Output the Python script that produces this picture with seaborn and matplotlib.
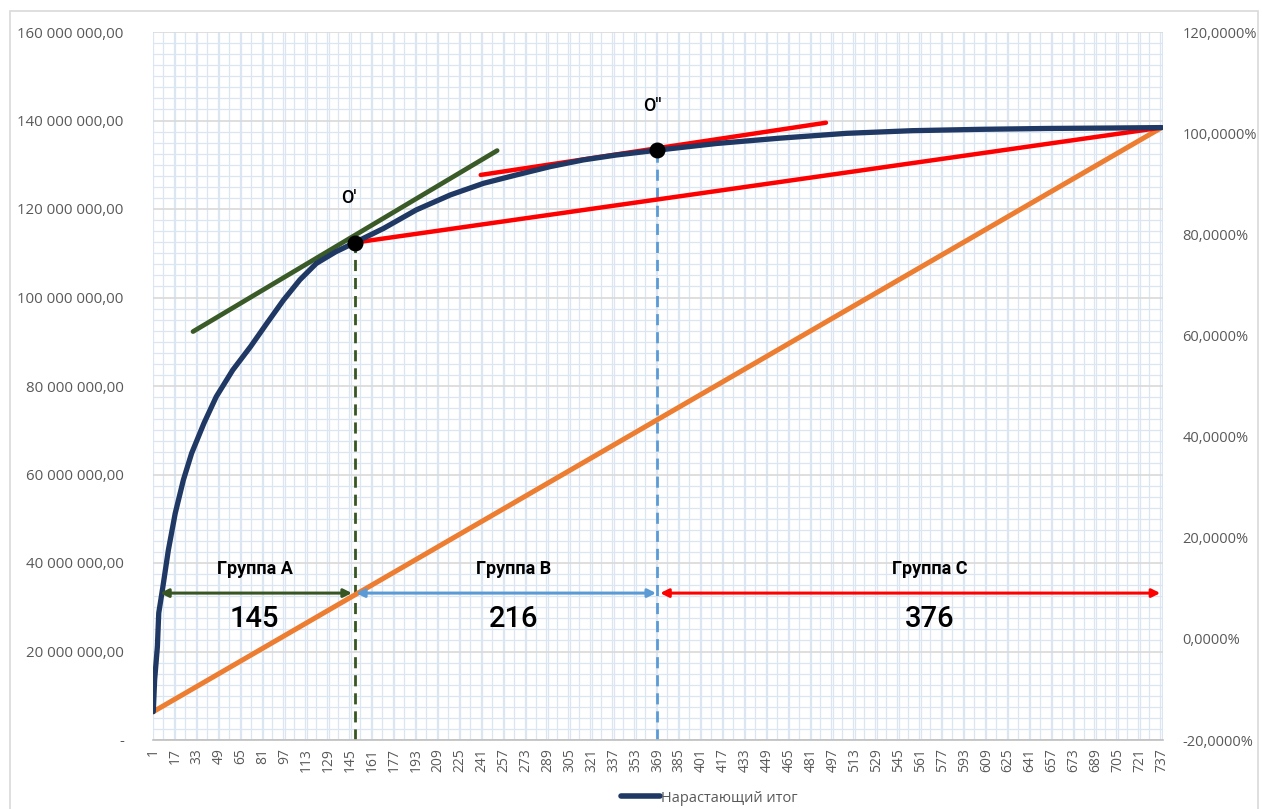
import matplotlib
matplotlib.use("Agg")
import matplotlib.pyplot as plt
from matplotlib.patches import Rectangle
from matplotlib.lines import Line2D
from matplotlib.ticker import FixedLocator, MultipleLocator, FuncFormatter
import numpy as np
import pandas as pd
import seaborn as sns

# Cumulative revenue (ABC analysis), item rank -> running total, mln
rank = [1, 2, 4, 5, 8, 12, 17, 23, 29, 38, 47, 59, 72, 84, 96, 108, 120, 134,
        148, 169, 193, 218, 242, 266, 291, 315, 339, 369, 412, 458, 507, 555,
        604, 653, 701, 737]
running_total_mln = [6.4, 13.6, 21.1, 28.7, 34.6, 42.9, 51.2, 58.8, 64.8, 71.6,
                     77.6, 83.6, 88.9, 94.2, 99.4, 104.0, 107.7, 110.3, 112.4,
                     115.6, 119.8, 123.2, 125.8, 127.7, 129.6, 131.1, 132.2,
                     133.3, 134.8, 136.0, 137.1, 137.7, 138.0, 138.2, 138.3, 138.4]

# Auxiliary straight lines: (rank, mln) end points
diagonal = ([1, 737], [6.4, 138.4])
tangent_a = ([30, 252], [92.3, 133.2])
chord_a = ([148, 737], [112.4, 138.4])
tangent_b = ([240, 492], [127.7, 139.5])

# Break points O' and O''
break_x = [148, 369]
break_y = [112.4, 133.3]
break_names = ["O'", "O''"]

# Group spans
groups = ["Группа A", "Группа B", "Группа C"]
group_counts = ["145", "216", "376"]
group_spans = [(6, 146), (149, 368), (371, 736)]
group_label_x = [75, 264, 568]
group_colors = ["#375623", "#5b9bd5", "#ff0000"]
arrow_level = 33.2

x_ticks = list(range(1, 738, 16))
left_ticks = [0, 20, 40, 60, 80, 100, 120, 140, 160]
right_ticks = [-0.2, 0.0, 0.2, 0.4, 0.6, 0.8, 1.0, 1.2]

M = 1e6
sns.set_theme(style="white")
plt.rcParams["font.family"] = ["Open Sans", "DejaVu Sans"]

W, H = 1262, 809
fig = plt.figure(figsize=(W / 100, H / 100), dpi=100)
ax = fig.add_axes([153 / W, 1 - 740 / H, (1163 - 153) / W, (740 - 32) / H])

# Graph-paper grid
ax.set_xlim(0.8, 738)
ax.set_ylim(0, 160 * M)
ax.xaxis.set_minor_locator(MultipleLocator(8))
ax.yaxis.set_minor_locator(MultipleLocator(2.5 * M))
ax.grid(which="minor", color="#dce6f2", lw=0.9)
ax.grid(which="major", axis="x", color="#dce6f2", lw=0.9)
ax.grid(which="major", axis="y", color="#d9d9d9", lw=1.2)
ax.set_axisbelow(True)

df = pd.DataFrame({"rank": rank, "total": np.array(running_total_mln) * M})

# Straight helper lines
sns.lineplot(x=diagonal[0], y=np.array(diagonal[1]) * M, ax=ax,
             color="#ed7d31", lw=3.6, zorder=3)
sns.lineplot(x=tangent_a[0], y=np.array(tangent_a[1]) * M, ax=ax,
             color="#3a5a27", lw=3.4, zorder=3)
sns.lineplot(x=chord_a[0], y=np.array(chord_a[1]) * M, ax=ax,
             color="#ff0000", lw=3.2, zorder=3)
sns.lineplot(x=tangent_b[0], y=np.array(tangent_b[1]) * M, ax=ax,
             color="#ff0000", lw=3.2, zorder=3)

# Running total curve
sns.lineplot(data=df, x="rank", y="total", ax=ax, color="#1f3864", lw=3.8,
             zorder=4, solid_joinstyle="round", solid_capstyle="round")

# Vertical dashed group borders
ax.plot([break_x[0]] * 2, [0, break_y[0] * M], ls=(0, (4, 2.5)),
        color="#375623", lw=2, zorder=2)
ax.plot([break_x[1]] * 2, [0, break_y[1] * M], ls=(0, (4, 2.5)),
        color="#5b9bd5", lw=2, zorder=2)

# Break points with labels
ax.scatter(break_x, np.array(break_y) * M, s=110, color="black", zorder=6)
for bx, by, name in zip(break_x, break_y, break_names):
    ax.text(bx - 4, by * M + 10 * M, name, ha="center", va="center",
            fontsize=13, family="Roboto", fontweight="medium", color="black")

# Group arrows and captions
for (x0, x1), lx, col, title, count in zip(group_spans, group_label_x,
                                           group_colors, groups, group_counts):
    ax.annotate("", xy=(x1, arrow_level * M), xytext=(x0, arrow_level * M),
                arrowprops=dict(arrowstyle="<|-|>", color=col, lw=2.2,
                                mutation_scale=12, shrinkA=0, shrinkB=0),
                zorder=5)
    ax.text(lx, arrow_level * M + 5.4 * M, title, ha="center", va="center",
            fontsize=13, family="Roboto", fontweight="bold", color="black")
    ax.text(lx, arrow_level * M - 5.9 * M, count, ha="center", va="center",
            fontsize=21, family="Roboto", fontweight="medium", color="black")

# Axes, ticks and labels
def money(v, pos):
    if abs(v) < 1:
        return "-"
    return f"{v:,.2f}".replace(",", " ").replace(".", ",")

ax.xaxis.set_major_locator(FixedLocator(x_ticks))
ax.set_xticklabels([str(t) for t in x_ticks], rotation=90)
ax.yaxis.set_major_locator(FixedLocator([t * M for t in left_ticks]))
ax.yaxis.set_major_formatter(FuncFormatter(money))
ax.tick_params(axis="x", which="both", length=0, pad=6, labelsize=10,
               labelcolor="#595959")
ax.tick_params(axis="y", which="both", length=0, pad=21, labelsize=10.8,
               labelcolor="#595959")
ax.set_xlabel("")
ax.set_ylabel("")
for side in ["left", "right", "top"]:
    ax.spines[side].set_visible(False)
ax.spines["bottom"].set_color("#bfbfbf")
ax.spines["bottom"].set_linewidth(1.2)

ax2 = ax.twinx()
ax2.set_ylim(-0.2, 1.2)
ax2.yaxis.set_major_locator(FixedLocator(right_ticks))
ax2.yaxis.set_major_formatter(
    FuncFormatter(lambda v, p: f"{v * 100:.4f}%".replace(".", ",")))
ax2.tick_params(axis="y", length=0, pad=14, labelsize=10.5,
                labelcolor="#595959")
ax2.grid(False)
for side in ["left", "right", "top", "bottom"]:
    ax2.spines[side].set_visible(False)

# Legend
handle = Line2D([], [], color="#1f3864", lw=4)
fig.legend([handle], ["Нарастающий итог"], loc="lower center",
           bbox_to_anchor=(0.562, -0.012), frameon=False, fontsize=10.5,
           handlelength=2.7, handletextpad=0.1, labelcolor="#595959")

# Chart frame
fig.patches.append(Rectangle((10 / W, -0.02), (1258 - 10) / W,
                             1 - 11 / H + 0.02, transform=fig.transFigure,
                             fill=False, edgecolor="#d9d9d9", lw=1.2))

fig.savefig("out.png", dpi=100)
